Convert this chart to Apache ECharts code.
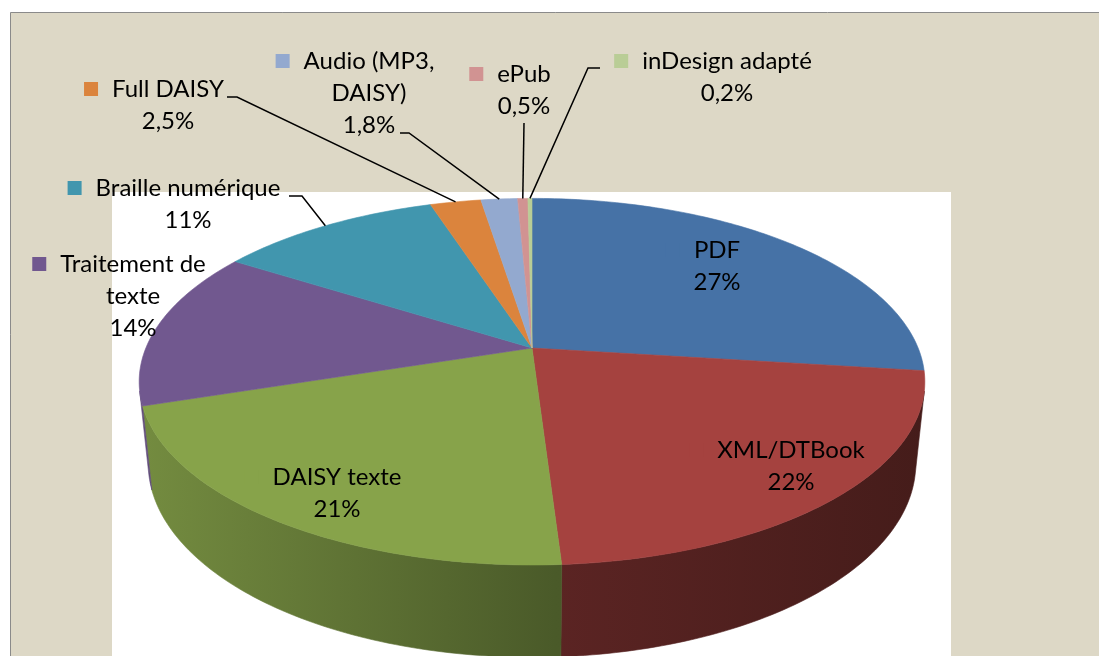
<!DOCTYPE html>
<html>
<head>
<meta charset="utf-8">
<script src="https://cdn.jsdelivr.net/npm/echarts@6/dist/echarts.min.js"></script>
<style>
html,body{margin:0;padding:0;background:#fff;}
#chartmain{width:1099px;height:656px;}
</style>
</head>
<body>
<div id="chartmain"></div>
<script>
var names=['PDF','XML/DTBook','DAISY texte','Traitement de\ntexte','Braille numérique','Full DAISY','Audio (MP3,\nDAISY)','ePub','inDesign adapté'];
var values=[27,22,21,14,11,2.5,1.8,0.5,0.2];
var valueLabels=['27%','22%','21%','14%','11%','2,5%','1,8%','0,5%','0,2%'];
var colors=['#4672a6','#a5423f','#87a34a','#71588f','#4196ae','#db843d','#93a9cf','#d19392','#b9cd96'];

// label layout: text centre x, centre y of first line
var labelAt=[[717,250],[791,450],[337,477],[133,264],[188,188],[168,89],[369,61],[524,74],[727,61]];
// leader lines: start point and elbow (null = label sits on the pie)
var leaderFrom=[null,null,null,null,[289,196],[227,97],[400,133],[524,123],[600,68]];
var leaderElbow=[null,null,null,null,[302,196],[237,97],[409,133],null,[588,68]];

// 3d view of the pie
var view={cx:532,cy:348,f:1867,d:4.835,tilt:27.3,h:0.24};
var sa=Math.sin(view.tilt*Math.PI/180), ca=Math.cos(view.tilt*Math.PI/180);
function proj(t,r,y) {
	var a=t*Math.PI/180, X=r*Math.sin(a), Z=-r*Math.cos(a);
	var u=y*ca-Z*sa, w=view.d-Z*ca-y*sa;
	return [view.cx+view.f*X/w, view.cy-view.f*u/w];
}
// visible part of the rim
var tR=Math.acos(-1/(view.d*ca))*180/Math.PI, tL=360-tR;

var total=0, start=[];
for(var i=0;i<values.length;i++){ start.push(total); total+=values[i]; }

function shade(hex,k) {
	var n=parseInt(hex.slice(1),16);
	var r=Math.round((n>>16&255)*k), g=Math.round((n>>8&255)*k), b=Math.round((n&255)*k);
	return 'rgb('+r+','+g+','+b+')';
}
function sideFill(c) {
	return new echarts.graphic.LinearGradient(139,0,925,0,[
		{offset:0,color:shade(c,0.86)},
		{offset:0.53,color:shade(c,0.55)},
		{offset:1,color:shade(c,0.42)}
	],true);
}

function arc(t0,t1,y) {
	var pts=[];
	for(var t=t0;t<t1;t+=1) pts.push(proj(t,1,y));
	pts.push(proj(t1,1,y));
	return pts;
}

function renderItem(params,api) {
	var i=params.dataIndex;
	var t0=start[i]*360/total, t1=(start[i]+api.value(0))*360/total;
	var kids=[];
	var top=[proj(0,0,0)].concat(arc(t0,t1,0));
	kids.push({type:'polygon',z2:2,shape:{points:top},
		style:{fill:colors[i],stroke:colors[i],lineWidth:0.6}});
	var s0=Math.max(t0,tR), s1=Math.min(t1,tL);
	if(s1>s0) {
		var side=arc(s0,s1,0).concat(arc(s0,s1,-view.h).reverse());
		var sf=sideFill(colors[i]);
		kids.push({type:'polygon',z2:1,shape:{points:side},style:{fill:sf,stroke:sf,lineWidth:0.6}});
	}
	if(leaderFrom[i]) {
		var pts=[leaderFrom[i]];
		if(leaderElbow[i]) pts.push(leaderElbow[i]);
		pts.push(proj((t0+t1)/2,1,0));
		kids.push({type:'polyline',z2:3,shape:{points:pts},style:{stroke:'#000',lineWidth:1.5,fill:null}});
	}
	var lines=names[i].split('\n');
	var txt='{k|}{g|}{n|'+lines[0]+'}{g|}{g|}';
	for(var j=1;j<lines.length;j++) txt+='\n{n|'+lines[j]+'}';
	txt+='\n{n|'+valueLabels[i]+'}';
	kids.push({type:'text',z2:4,x:labelAt[i][0],y:labelAt[i][1]-16,
		style:{text:txt,align:'center',verticalAlign:'top',
			rich:{
				k:{width:14,height:14,backgroundColor:colors[i],lineHeight:32,align:'center'},
				g:{width:14,lineHeight:32,align:'center'},
				n:{fontSize:24,fontFamily:'Lato',color:'#000',lineHeight:32,align:'center'}
			}}});
	return {type:'group',children:kids};
}

var data=[];
for(var i=0;i<values.length;i++) data.push({name:names[i],value:values[i]});

var myChart=echarts.init(document.getElementById('chartmain'));
var option={
	animation:false,
	graphic:[
		{type:'rect',z:-10,shape:{x:10.5,y:12.5,width:1100,height:660},
			style:{fill:'#ddd8c6',stroke:'#8a8a8a',lineWidth:1}},
		{type:'rect',z:-9,shape:{x:112,y:192,width:839,height:470},style:{fill:'#fff'}}
	],
	series:[{
		type:'custom',
		coordinateSystem:'none',
		renderItem:renderItem,
		data:data
	}]
};
myChart.setOption(option);
</script>
</body>
</html>
